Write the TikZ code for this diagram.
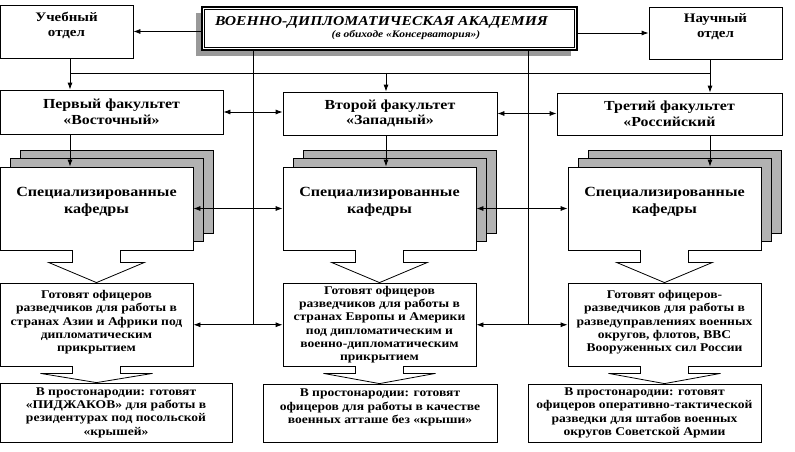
\documentclass[tikz,border=0pt]{standalone}
\usepackage{fontspec}
\setmainfont{Liberation Serif}[FakeStretch=1.15]
\usetikzlibrary{arrows.meta}

\begin{document}
\begin{tikzpicture}[x=1pt, y=-1pt, line width=0.8pt,
		>={Latex[length=7pt,width=5pt]},
		box/.style={draw, fill=white, align=center, inner sep=1pt, font=\bfseries},
		headbox/.style={box, font=\bfseries\fontsize{13}{15}\selectfont},
		fakbox/.style={box, font=\bfseries\fontsize{13.8}{15.5}\selectfont},
		kafbox/.style={box, minimum width=193pt, minimum height=83pt, font=\bfseries\fontsize{14}{17}\selectfont},
		txtbox/.style={box, font=\bfseries\fontsize{11.8}{13.3}\selectfont}]
	\useasboundingbox (0,0) rectangle (795,452);
	% top row
	\fill[black!40] (196,13) rectangle (571,56);
	\node[box, line width=2.4pt, minimum width=375pt, minimum height=43pt] (akad) at (389.5,28.5)
		{\fontsize{13.6}{13}\selectfont\itshape ВОЕННО-ДИПЛОМАТИЧЕСКАЯ АКАДЕМИЯ\hspace*{16pt}\\
		 \hspace*{33pt}\fontsize{10}{13}\selectfont\itshape (в обиходе «Консерватория»)};
	\draw[line width=0.6pt] ([shift={(3.5pt,-3.5pt)}]akad.north west) rectangle ([shift={(-3.5pt,3.5pt)}]akad.south east);
	\node[headbox, minimum width=133pt, minimum height=53pt] (ucheb) at (66.5,31.5) {Учебный\\отдел\\\mbox{}};
	\node[headbox, minimum width=133pt, minimum height=52pt] (nauch) at (715.5,33) {Научный\\отдел\\\mbox{}};
	\draw[->] (akad.west |- ucheb.east) -- (ucheb.east);
	\draw[->] (akad.east |- nauch.west) -- (nauch.west);
	% faculties
	\node[fakbox, minimum width=223pt, minimum height=44pt] (fak1) at (111.5,112) {Первый факультет\\«Восточный»};
	\node[fakbox, minimum width=214pt, minimum height=43pt] (fak2) at (390,113.5) {Второй факультет\\«Западный»};
	\node[fakbox, minimum width=225pt, minimum height=42pt] (fak3) at (669.5,114) {Третий факультет\\«Российский};
	\coordinate (busL) at (70,73);
	\coordinate (busM) at (386,73);
	\coordinate (busR) at (710,73);
	\draw (ucheb.south -| busL) -- (busL) -- (busR) -- (nauch.south -| busR);
	\draw[->] (busL) -- (fak1.north -| busL);
	\draw[->] (busM) -- (fak2.north -| busM);
	\draw[->] (busR) -- (fak3.north -| busR);
	% departments
	\foreach \x/\n in {0/1,283/2,568/3}{
		\draw[fill=black!30] (\x+20,150) rectangle ++(193,83);
		\draw[fill=black!30] (\x+10,158.5) rectangle ++(193,83);
		\node[kafbox] (kaf\n) at (\x+96.5,208.5) {Специализированные\\кафедры\\\mbox{}};
	}
	\draw[->] (fak1.south -| busL) -- (kaf1.north -| busL);
	\draw[->] (fak2.south -| busM) -- (kaf2.north -| busM);
	\draw[->] (fak3.south -| busR) -- (kaf3.north -| busR);
	% what they train
	\node[txtbox, minimum width=193pt, minimum height=83.5pt] (got1) at (96.5,324.75)
		{Готовят офицеров\\разведчиков для работы в\\странах Азии и Африки под\\дипломатическим\\прикрытием\\[-6pt]\mbox{}};
	\node[txtbox, minimum width=193pt, minimum height=83.5pt] (got2) at (379.5,324.75)
		{Готовят офицеров\\разведчиков для работы в\\странах Европы и Америки\\под дипломатическим и\\военно-дипломатическим\\прикрытием};
	\node[txtbox, minimum width=193pt, minimum height=83.5pt] (got3) at (664.5,324.75)
		{Готовят офицеров-\\разведчиков для работы в\\разведуправлениях военных\\округов, флотов, ВВС\\Вооруженных сил России\\[-6pt]\mbox{}};
	\node[txtbox, minimum width=232pt, minimum height=59pt] (prost1) at (116,412.5)
		{В простонародии: готовят\\«ПИДЖАКОВ» для работы в\\резидентурах под посольской\\«крышей»};
	\node[txtbox, minimum width=234pt, minimum height=58pt] (prost2) at (380,413)
		{В простонародии: готовят\\офицеров для работы в качестве\\военных атташе без «крыши»\\\mbox{}};
	\node[txtbox, minimum width=233pt, minimum height=58pt] (prost3) at (644.5,413)
		{В простонародии: готовят\\офицеров оперативно-тактической\\разведки для штабов военных\\округов Советской Армии};
	% block arrows
	\foreach \n in {1,2,3}{
		\fill[white] ([xshift=-23.6pt,yshift=1pt]kaf\n.south) rectangle ([xshift=23.6pt,yshift=-3pt]kaf\n.south);
		\draw ([xshift=-24pt]kaf\n.south) -- ++(0,12) -- ++(-24,0) -- (got\n.north)
			-- ([xshift=48pt,yshift=-12pt]kaf\n.south) -- ++(-24,0) -- ++(0,-12);
		\fill[white] ([xshift=-23.6pt,yshift=1pt]got\n.south) rectangle ([xshift=23.6pt,yshift=-3pt]got\n.south);
		\draw ([xshift=-24pt]got\n.south) -- ++(0,6.5) -- ++(-32,0) -- (got\n.south |- prost\n.north)
			-- ([xshift=56pt,yshift=-6.5pt]got\n.south) -- ++(-32,0) -- ++(0,-6.5);
	}
	% links between columns
	\coordinate (vL) at (253,324.75);
	\coordinate (vR) at (528,324.75);
	\draw (akad.south -| vL) -- (vL);
	\draw (akad.south -| vR) -- (vR);
	\draw[<->] (fak1.east) -- (fak1.east -| fak2.west);
	\draw[<->] (fak2.east) -- (fak2.east -| fak3.west);
	\draw[<->] (kaf1.east) -- (kaf2.west);
	\draw[<->] (kaf2.east) -- (kaf3.west);
	\draw[<->] (got1.east) -- (got2.west);
	\draw[<->] (got2.east) -- (got3.west);
\end{tikzpicture}
\end{document}
